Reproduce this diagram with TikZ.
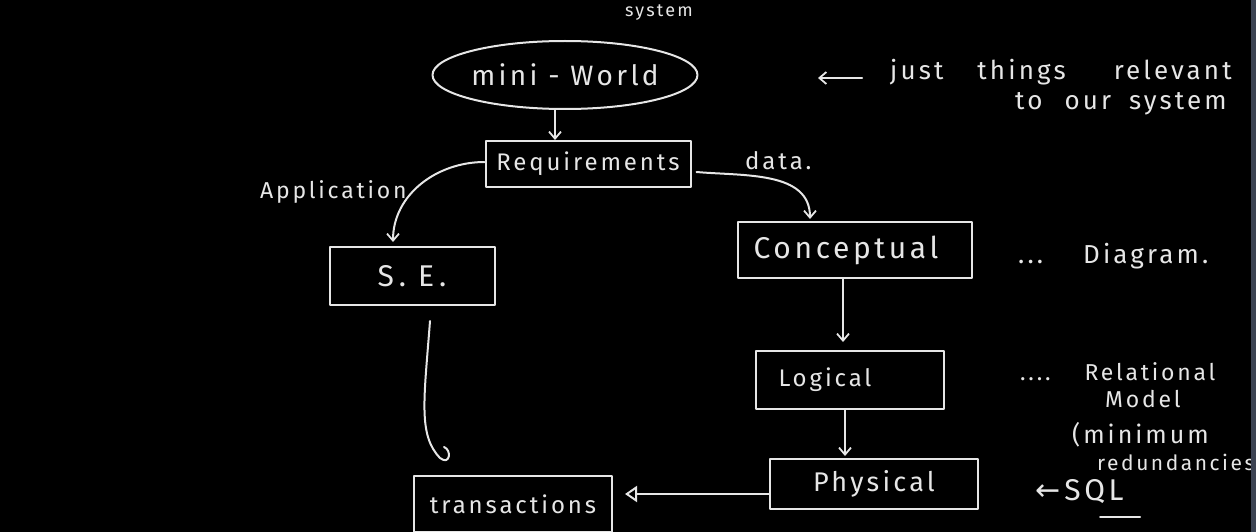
\documentclass[tikz,border=0pt]{standalone}
\usepackage{fontspec}
\usetikzlibrary{arrows.meta,shapes.geometric}
\newfontfamily\hand{Fira Sans}[LetterSpace=12]
\newfontfamily\symfont{DejaVu Sans}
\definecolor{chalk}{HTML}{E6E6E6}
\definecolor{strip}{HTML}{3B4252}
\newcommand\fs[1]{\hand\fontsize{#1}{#1}\selectfont}
\begin{document}
\begin{tikzpicture}[x=1pt,y=-1pt,
  line/.style={draw=chalk, line width=2pt, line cap=round, line join=round},
  arr/.style={line, -{Straight Barb[length=7pt,width=12pt,line width=1.8pt]}},
  tri/.style={line, -{Triangle[open,length=12pt,width=16pt,line width=2pt]}},
  box/.style={line, rectangle, inner sep=0pt, text=chalk, font=\fs{24}},
  lbl/.style={text=chalk, inner sep=0pt, anchor=base west, font=\fs{23}},
]
\fill[black] (0,0) rectangle (1256,532);
\useasboundingbox (0,0) rectangle (1256,532);
\begin{scope}
\clip (0,0) rectangle (1251,532);
% nodes
\node[box, ellipse, minimum width=250, minimum height=68, font=\fs{28}] (mw) at (565,75) {mini - World};
\node[box, minimum width=205, minimum height=46] (req) at (588,164) {Requirements};
\node[box, minimum width=165, minimum height=58, font=\fs{30}] (se) at (412,276) {S\,.\hspace{12pt}E\,.};
\node[box, minimum width=234, minimum height=56, font=\fs{30}] (con) at (855,250) {Conceptual\kern18pt};
\node[box, minimum width=188, minimum height=58] (log) at (850,380) {Logical\kern50pt};
\node[box, minimum width=208, minimum height=50, font=\fs{27}] (phy) at (874,484) {Physical};
\node[box, minimum width=198, minimum height=56] (tr) at (513,504) {transactions};
% labels
\node[lbl] (app) at (260,198) {Application};
\node[lbl, font=\fs{24}] (data) at (745,170) {data.};
\node[lbl, font=\fs{18}] (sys) at (625,17) {system};
\node[lbl, font=\fs{26}] (just) at (890,80) {just\hspace{34pt}things\hspace{48pt}relevant};
\node[lbl, font=\fs{26}] (our) at (1015,110) {to\hspace{22pt}our\hspace{18pt}system};
\coordinate (ja) at (862,78);
\coordinate (jb) at (818,78);
\node[lbl, font=\fs{26}] (diag) at (1018,263) {...\hspace{40pt}Diagram.};
\node[lbl] (rel) at (1020,380) {....\hspace{34pt}Relational};
\node[lbl] (model) at (1105,407) {Model};
\node[lbl, font=\fs{25}] (minm) at (1072,443) {(minimum};
\node[lbl, font=\fs{21}] (redu) at (1097,470) {redundancies};
\node[lbl, font=\fs{30}] (sql) at (1035,500) {{\symfont\fontsize{30}{30}\selectfont ←}\hspace{4pt}SQL};
\coordinate (ula) at (1100,517);
\coordinate (ulb) at (1140,517);
% connectors
\draw[arr] ([xshift=-10pt]mw.south) -- ([xshift=-33pt]req.north);
\draw[arr] ([yshift=2pt]req.west) to[out=180,in=90] ([xshift=-19pt,yshift=4pt]se.north);
\draw[arr] ([xshift=5pt,yshift=-8pt]req.east) to[out=-5,in=90] ([xshift=-45pt,yshift=2pt]con.north);
\draw[arr] ([xshift=-12pt]con.south) -- ([xshift=-7pt,yshift=8pt]log.north);
\draw[arr] ([xshift=-5pt]log.south) -- ([xshift=-29pt,yshift=2pt]phy.north);
\draw[tri, shorten >=12pt] ([yshift=-10pt]phy.west) -- ([yshift=10pt]tr.east);
\draw[line] ([xshift=18pt,yshift=-15pt]se.south) .. controls (424,400) and (418,435) .. (440,458)
  .. controls (450,466) and (452,450) .. ([xshift=-69pt,yshift=28pt]tr.north);
\draw[arr] (ja) -- (jb);
\draw[line] (ula) -- (ulb);
\end{scope}
\fill[strip] (1251,0) rectangle (1256,532);
\end{tikzpicture}
\end{document}
